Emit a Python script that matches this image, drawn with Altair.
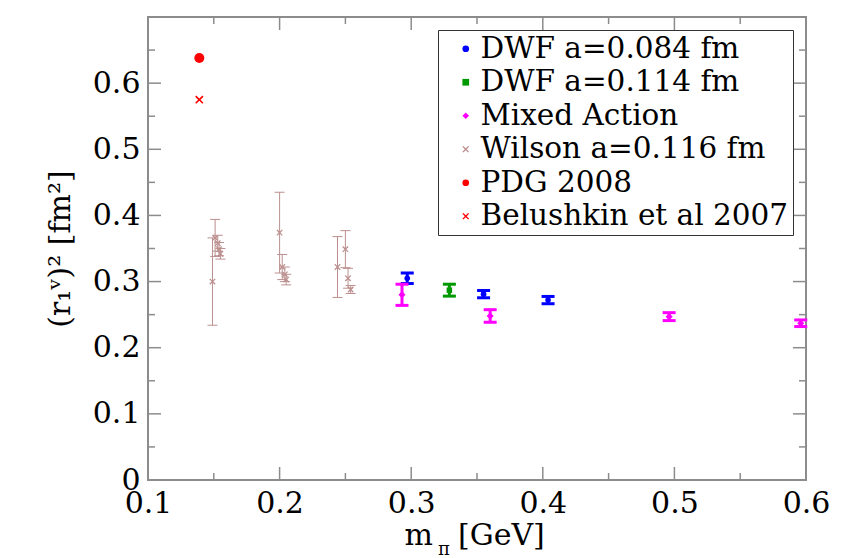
import altair as alt
import pandas as pd

# ---- series (legend order), colours and marker styles ----
SERIES = ["DWF a=0.084 fm", "DWF a=0.114 fm", "Mixed Action",
          "Wilson a=0.116 fm", "PDG 2008", "Belushkin et al 2007"]
COLORS = ["#0000ff", "#009a00", "#ff00ff", "#bc8f8f", "#ff0000", "#ff0000"]
X_PATH = ("M-1,-0.72L-0.72,-1L0,-0.28L0.72,-1L1,-0.72L0.28,0L1,0.72"
          "L0.72,1L0,0.28L-0.72,1L-1,0.72L-0.28,0Z")
SHAPES = ["circle", "square", "diamond", X_PATH, "circle", X_PATH]
SIZES = [32, 30, 50, 40, 100, 70]

# ---- data: pion mass [GeV], (r1^v)^2 [fm^2], error ----
dwf084_mpi = [0.297, 0.355, 0.404]
dwf084_r2 = [0.305, 0.281, 0.272]
dwf084_err = [0.008, 0.0055, 0.0055]

dwf114_mpi = [0.329]
dwf114_r2 = [0.287]
dwf114_err = [0.009]

mixed_mpi = [0.293, 0.360, 0.496, 0.596]
mixed_r2 = [0.280, 0.248, 0.247, 0.237]
mixed_err = [0.016, 0.0095, 0.006, 0.005]

wilson_mpi = [0.149, 0.151, 0.153, 0.154, 0.155,
              0.200, 0.202, 0.204, 0.205,
              0.244, 0.250, 0.252, 0.254]
wilson_r2 = [0.300, 0.366, 0.358, 0.349, 0.342,
             0.374, 0.322, 0.311, 0.303,
             0.322, 0.349, 0.305, 0.288]
wilson_err = [0.066, 0.028, 0.012, 0.010, 0.008,
              0.061, 0.019, 0.011, 0.008,
              0.046, 0.028, 0.015, 0.006]

pdg_mpi = [0.139]
pdg_r2 = [0.638]
belushkin_mpi = [0.139]
belushkin_r2 = [0.575]

# ---- axis ticks ----
x_label_vals = [0.1, 0.2, 0.3, 0.4, 0.5, 0.6]
y_label_vals = [0.0, 0.1, 0.2, 0.3, 0.4, 0.5, 0.6]
x_major = [0.2, 0.3, 0.4, 0.5]
x_minor = [0.15, 0.25, 0.35, 0.45, 0.55]
y_major = [0.1, 0.2, 0.3, 0.4, 0.5, 0.6]
y_minor = [0.05, 0.15, 0.25, 0.35, 0.45, 0.55, 0.65]

W, H = 658, 463
FONT = "DejaVu Serif"
FRAME = "#8c8c8c"


def frame(name, mpi, r2, err=None):
    err = err if err is not None else [0.0] * len(mpi)
    df = pd.DataFrame({"series": name, "mpi": mpi, "r2": r2, "err": err})
    df["lo"] = df["r2"] - df["err"]
    df["hi"] = df["r2"] + df["err"]
    df["msize"] = SIZES[SERIES.index(name)]
    return df


frames = [
    frame(SERIES[0], dwf084_mpi, dwf084_r2, dwf084_err),
    frame(SERIES[1], dwf114_mpi, dwf114_r2, dwf114_err),
    frame(SERIES[2], mixed_mpi, mixed_r2, mixed_err),
    frame(SERIES[3], wilson_mpi, wilson_r2, wilson_err),
    frame(SERIES[4], pdg_mpi, pdg_r2),
    frame(SERIES[5], belushkin_mpi, belushkin_r2),
]
points = pd.concat(frames, ignore_index=True)

xscale = alt.Scale(domain=[0.1, 0.6], nice=False, zero=False)
yscale = alt.Scale(domain=[0.0, 0.7], nice=False, zero=False)

# identical axis definitions on every layer so that they merge cleanly
XAXIS = alt.Axis(values=x_label_vals, title=None, labelFlush=False,
                 labelOverlap=False, labelFont=FONT, labelFontSize=30,
                 labelPadding=8,
                 labelExpr="format(datum.value, '.1f')")
YAXIS = alt.Axis(values=y_label_vals, labelFlush=False, labelOverlap=False,
                 labelFont=FONT, labelFontSize=30, labelPadding=8,
                 labelExpr="datum.value == 0 ? '0' : format(datum.value, '.1f')",
                 title="(r\u2081\u1d5b)\u00b2  [fm\u00b2]",
                 titleFont=FONT, titleFontSize=30,
                 titleX=-88, titleY=H / 2, titleAngle=270,
                 titleAlign="center", titleBaseline="middle")


def xq(field):
    return alt.X(field, type="quantitative", scale=xscale, axis=XAXIS)


def yq(field):
    return alt.Y(field, type="quantitative", scale=yscale, axis=YAXIS)


def error_bars(df, color, width, cap):
    base = alt.Chart(df)
    bar = base.mark_rule(strokeWidth=width, color=color).encode(
        x=xq("mpi"), y=yq("lo"), y2="hi")
    lo_cap = base.mark_tick(orient="horizontal", thickness=width, size=cap,
                            opacity=1, color=color).encode(x=xq("mpi"), y=yq("lo"))
    hi_cap = base.mark_tick(orient="horizontal", thickness=width, size=cap,
                            opacity=1, color=color).encode(x=xq("mpi"), y=yq("hi"))
    return [bar, lo_cap, hi_cap]


bar_layers = error_bars(frames[3], COLORS[3], 1, 10)
for i in range(3):
    bar_layers += error_bars(frames[i], COLORS[i], 3, 13)

markers = alt.Chart(points).mark_point(filled=True, opacity=1,
                                       strokeWidth=0).encode(
    x=xq("mpi"),
    y=yq("r2"),
    color=alt.Color("series:N", scale=alt.Scale(domain=SERIES, range=COLORS),
                    legend=alt.Legend(
                        title=None, orient="none", legendX=290, legendY=13,
                        labelFont=FONT, labelFontSize=29.5, symbolSize=45)),
    shape=alt.Shape("series:N", scale=alt.Scale(domain=SERIES, range=SHAPES)),
    size=alt.Size("msize:Q", scale=None),
)


def y_ticks(vals, length, left=True):
    x0, x1 = (0, length) if left else (W, W - length)
    return alt.Chart(pd.DataFrame({"v": vals})).mark_rule(
        color=FRAME, strokeWidth=1.5).encode(
        y=yq("v"), x=alt.value(x0), x2=alt.value(x1))


def x_ticks(vals, length, bottom=True):
    y0, y1 = (H, H - length) if bottom else (0, length)
    return alt.Chart(pd.DataFrame({"v": vals})).mark_rule(
        color=FRAME, strokeWidth=1.5).encode(
        x=xq("v"), y=alt.value(y0), y2=alt.value(y1))


tick_layers = [
    y_ticks(y_major, 13, True), y_ticks(y_minor, 7, True),
    y_ticks(y_major, 13, False), y_ticks(y_minor, 7, False),
    x_ticks(x_major, 13, True), x_ticks(x_minor, 7, True),
    x_ticks(x_major, 13, False), x_ticks(x_minor, 7, False),
]


def label(text, x, y, size, align):
    return alt.Chart(pd.DataFrame({"t": [text]})).mark_text(
        font=FONT, fontSize=size, align=align, baseline="alphabetic",
        color="black").encode(text="t:N", x=alt.value(x), y=alt.value(y))


x_title = [
    label("m", 285, 528, 30, "right"),
    label("\u03c0", 290, 538, 18, "left"),
    label("[GeV]", 310, 528, 30, "left"),
]

chart = alt.layer(
    *tick_layers,
    *bar_layers,
    markers,
    *x_title,
).properties(
    width=W, height=H,
    autosize=alt.AutoSizeParams(type="none"),
    padding={"left": 148, "top": 17, "right": 47, "bottom": 78},
).configure(
    font=FONT,
    style={"guide-label": {"font": FONT}, "guide-title": {"font": FONT}},
).configure_view(
    stroke=FRAME, strokeWidth=2
).configure_axis(
    labelFont=FONT, labelColor="black",
    titleFont=FONT, titleColor="black", titleFontWeight="normal",
    ticks=False, tickSize=0, domain=False, grid=False,
).configure_legend(
    labelFont=FONT, labelFontSize=29.5, labelColor="black",
    fillColor="white", strokeColor="#333333", strokeWidth=1,
    padding=4, rowPadding=2.5, symbolOffset=9, labelOffset=0,
    symbolStrokeWidth=0, labelLimit=400,
)

chart.save("out.html", embed_options={"renderer": "svg", "actions": False})
